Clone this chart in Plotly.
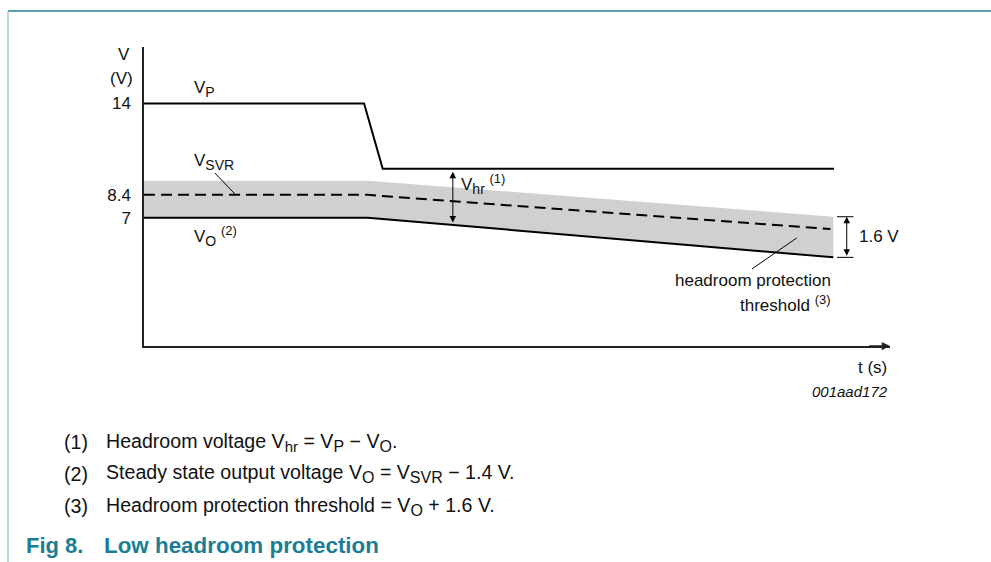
import numpy as np
import plotly.graph_objects as go

# ---- data (time in arbitrary units 0..100 along t axis, voltage in V) ----
t_vp = [0, 29.5, 32.0, 92.5]
v_vp = [14, 14, 10, 10]
t_vo = [0, 30.0, 92.4]
v_vo = [7, 7, 4.57]
t_svr = [0, 30.0, 92.0]
v_svr = [8.4, 8.4, 6.3]
t_thr = [0, 30.0, 92.4]
v_thr = [9.27, 9.27, 7.06]
y_ticks = [7, 8.4, 14]
y_tick_labels = ["7", "8.4", "14"]
t_vhr = 41.4          # position of the V_hr measurement arrow
t_bracket = 94.2      # position of the 1.6 V bracket

W, H = 991, 562
FONT = "Arial, Liberation Sans, Helvetica, sans-serif"
TEAL = "#1b7d95"
DS = 17   # diagram text size
FS = 19.6   # footnote size


def px(x):
    return x / W


def py(y):
    return 1 - y / H


def sub(t, size):
    return '<sub><span style="font-size:%dpx">%s</span></sub>' % (size, t)


def sup(t, size):
    return '<sup><span style="font-size:%dpx">%s</span></sup>' % (size, t)


fig = go.Figure()

# grey protection band between threshold and V_O
fig.add_trace(go.Scatter(
    x=t_thr + t_vo[::-1], y=v_thr + v_vo[::-1],
    fill="toself", fillcolor="#d0d0d0", line=dict(width=0),
    mode="lines", hoverinfo="skip", showlegend=False))

fig.add_trace(go.Scatter(x=t_vp, y=v_vp, mode="lines",
                         line=dict(color="black", width=2), hoverinfo="skip", showlegend=False))
fig.add_trace(go.Scatter(x=t_svr, y=v_svr, mode="lines",
                         line=dict(color="black", width=2, dash="11px,6px"), hoverinfo="skip", showlegend=False))
fig.add_trace(go.Scatter(x=t_vo, y=v_vo, mode="lines",
                         line=dict(color="black", width=2), hoverinfo="skip", showlegend=False))

# leader lines
fig.add_trace(go.Scatter(x=[9.5, 12.3, None, 81.5, 87.5], y=[9.74, 8.4, None, 3.86, 5.76],
                         mode="lines", line=dict(color="black", width=1), hoverinfo="skip", showlegend=False))

# 1.6 V bracket
v_top = v_thr[-1]
v_bot = v_vo[-1]
for v in (v_top, v_bot):
    fig.add_shape(type="line", x0=t_bracket - 1.3, x1=t_bracket + 0.9, y0=v, y1=v,
                  line=dict(color="black", width=1))

ann = []
ann.append(dict(x=t_bracket, y=v_top, ax=t_bracket, ay=v_bot, axref="x", ayref="y",
                xref="x", yref="y", text="", showarrow=True, arrowhead=2, arrowside="end+start",
                arrowsize=1.3, arrowwidth=1, arrowcolor="black"))

# V_hr arrow
v_vo_at = float(np.interp(t_vhr, t_vo, v_vo))
ann.append(dict(x=t_vhr, y=v_vp[-1], ax=t_vhr, ay=v_vo_at, axref="x", ayref="y",
                xref="x", yref="y", text="", showarrow=True, arrowhead=2, arrowside="end+start",
                arrowsize=1.3, arrowwidth=1, arrowcolor="black", standoff=3, startstandoff=1))

# x axis arrow head
ann.append(dict(x=100, y=-0.864, ax=97, ay=-0.864, axref="x", ayref="y", xref="x", yref="y",
                text="", showarrow=True, arrowhead=2, arrowsize=1.1, arrowwidth=1.5,
                arrowcolor="#222"))


def label(x, y, text, xanchor="left", size=DS, ref="x", color="#111", italic=False, bold=False):
    f = dict(family=FONT, size=size, color=color)
    if italic:
        f["style"] = "italic"
    if bold:
        f["weight"] = "bold"
    d = dict(x=x, y=y, text=text, showarrow=False, xanchor=xanchor, yanchor="middle", font=f)
    if ref == "x":
        d.update(xref="x", yref="y")
    else:
        d.update(xref="paper", yref="paper")
    ann.append(d)


label(6.4, 14.9, "V" + sub("P", 14))
label(6.4, 10.4, "V" + sub("SVR", 14))
label(6.4, 5.9, "V" + sub("O", 14) + " " + sup("(2)", 13))
label(42.2, 9.05, "V" + sub("hr", 14) + " " + sup("(1)", 13))
label(95.6, 5.82, "1.6 V")
label(92.3, 3.18, "headroom protection", xanchor="right")
label(92.3, 1.77, "threshold " + sup("(3)", 13), xanchor="right")

# axis titles and figure id
label(px(124), py(55), "V", xanchor="center", ref="paper")
label(px(121), py(78), "(V)", xanchor="center", ref="paper")
label(px(889), py(367), "t (s)", xanchor="right", ref="paper")
label(px(890), py(391), "001aad172", xanchor="right", ref="paper", size=15, italic=True)

# footnotes
notes = [
    ("(1)", "Headroom voltage V" + sub("hr", 15) + " = V" + sub("P", 16) + " \u2212 V" + sub("O", 16) + "."),
    ("(2)", "Steady state output voltage V" + sub("O", 16) + " = V" + sub("SVR", 16) + " \u2212 1.4 V."),
    ("(3)", "Headroom protection threshold = V" + sub("O", 16) + " + 1.6 V."),
]
for i, (n, txt) in enumerate(notes):
    yy = 442 + 32 * i
    label(px(62), py(yy), n, ref="paper", size=FS)
    label(px(104), py(yy), txt, ref="paper", size=FS)

label(px(24), py(545), "Fig 8.", ref="paper", size=22, bold=True, color=TEAL)
label(px(102), py(545), "Low headroom protection", ref="paper", size=22.4, bold=True, color=TEAL)

# page frame
shapes_frame = [
    dict(type="line", xref="paper", yref="paper", x0=px(8), x1=1, y0=py(11), y1=py(11),
         line=dict(color="#5b9fb0", width=2)),
    dict(type="line", xref="paper", yref="paper", x0=px(8), x1=px(8), y0=py(11), y1=0,
         line=dict(color="#7db4c2", width=1)),
]
for s in shapes_frame:
    fig.add_shape(**s)

fig.update_layout(
    width=W, height=H, margin=dict(l=0, r=0, t=0, b=0),
    paper_bgcolor="white", plot_bgcolor="white",
    annotations=ann, hovermode=False,
    xaxis=dict(domain=[144 / W, 890 / W], range=[0, 100], showgrid=False, zeroline=False,
               showticklabels=False, ticks="", showline=True, linecolor="#222", linewidth=1.5),
    yaxis=dict(domain=[1 - 346 / H, 1 - 47 / H], range=[-0.864, 17.463], showgrid=False,
               zeroline=False, showline=True, linecolor="#222", linewidth=1.5,
               tickvals=y_ticks, ticktext=y_tick_labels, ticks="outside", ticklen=8,
               tickcolor="rgba(0,0,0,0)", tickfont=dict(family=FONT, size=DS, color="#111")),
    font=dict(family=FONT),
)

fig.write_html("out.html", config={"displayModeBar": False},
               post_script="document.body.style.margin='0';document.body.style.overflow='hidden';")
